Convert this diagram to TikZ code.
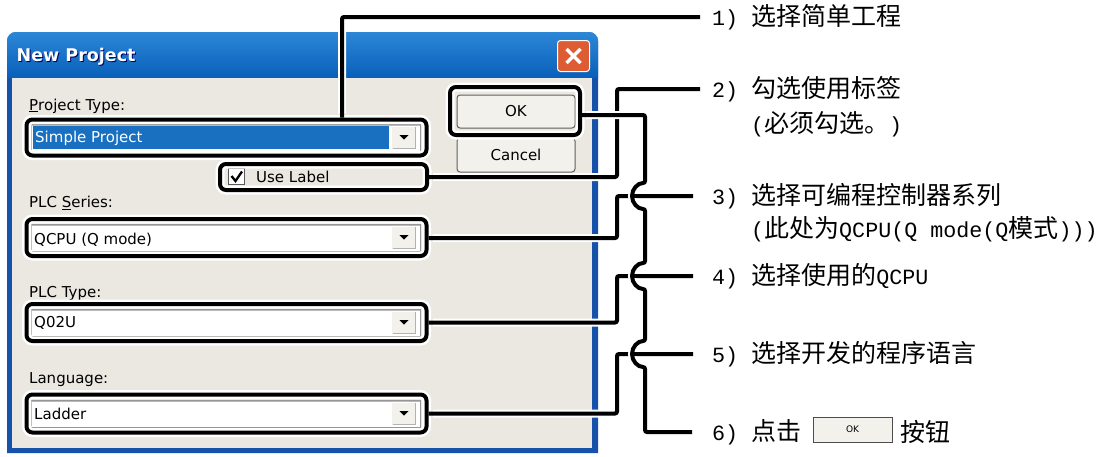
\documentclass[tikz,border=0pt]{standalone}
\usepackage{fontspec}
\setmainfont{DejaVu Sans}
\newfontfamily\cjkfont{Noto Sans CJK SC}
\newfontfamily\latmono{Liberation Mono}
\newfontfamily\uifont{DejaVu Sans}
\newcommand\hw[1]{{\latmono\fontsize{21.7}{22}\selectfont #1}}
\definecolor{titletop}{RGB}{45,135,215}
\definecolor{titlebot}{RGB}{8,95,185}
\definecolor{frameblue}{RGB}{22,82,170}
\definecolor{bodygray}{RGB}{234,232,225}
\definecolor{selblue}{RGB}{25,112,192}
\definecolor{btngray}{RGB}{242,241,236}
\definecolor{fieldgray}{RGB}{150,150,150}
\definecolor{closered}{RGB}{222,92,52}
\begin{document}
\begin{tikzpicture}[x=1pt,y=-1pt,
  hbox/.style={draw=black, line width=4, rounded corners=6, preaction={draw=white, line width=9}},
  conn/.style={line width=4, rounded corners=2, preaction={draw=white, line width=8, shorten <=4}},
  bare/.style={line width=4},
  ui/.style={font=\uifont\fontsize{15}{15}\selectfont, inner sep=0, anchor=west},
  lbl/.style={font=\cjkfont\fontsize{25}{26}\selectfont, inner sep=0, anchor=west},
  btn/.style={draw=gray!75!black, fill=btngray, rounded corners=3, line width=1, font=\uifont\fontsize{15}{15}\selectfont}]
\useasboundingbox (0,0) rectangle (1112,456);
\fill[white] (0,0) rectangle (1112,456);
% window
\fill[frameblue] (7,453) -- (7,41) arc[start angle=180, end angle=270, radius=9] -- (589,32) arc[start angle=270, end angle=360, radius=9] -- (598,453) -- cycle;
\shade[top color=titletop, bottom color=titlebot] (7,78) -- (7,41) arc[start angle=180, end angle=270, radius=9] -- (589,32) arc[start angle=270, end angle=360, radius=9] -- (598,78) -- cycle;
\fill[bodygray] (12,78) rectangle (592,448);
\node[ui, font=\uifont\bfseries\fontsize{17.5}{17.5}\selectfont, text=black!60!blue] at (17.5,58) {New Project};
\node[ui, font=\uifont\bfseries\fontsize{17.5}{17.5}\selectfont, text=white] (title) at (16.5,57) {New Project};
\node[fill=closered, draw=white, rounded corners=3, line width=1, minimum width=32, minimum height=31] (close) at (573.5,56) {};
\draw[white, line width=3.2] ([shift={(-7pt,-7pt)}]close.center) -- ([shift={(7pt,7pt)}]close.center);
\draw[white, line width=3.2] ([shift={(-7pt,7pt)}]close.center) -- ([shift={(7pt,-7pt)}]close.center);
% combo boxes
\foreach \c in {137.5,237.5,322.5,413.5} {
  \fill[white] (30,\c-14) rectangle (421,\c+14);
  \draw[line width=1, fieldgray] (30.5,\c-13.5) rectangle (420.5,\c+13.5);
  \draw[line width=1, gray!55] (31.5,\c+12.5) -- (31.5,\c-12.5) -- (419.5,\c-12.5);
  \fill[btngray] (392,\c-11) rectangle (416,\c+11);
  \draw[line width=1, gray!60] (392.5,\c+10.5) -- (415.5,\c+10.5) -- (415.5,\c-10.5);
  \fill (399.5,\c-2.5) -- (408.5,\c-2.5) -- (404,\c+2) -- cycle;
}
\fill[selblue] (33,126) rectangle (389,149);
% dialog texts
\node[ui] (ptype) at (29,106) {\underline{P}roject Type:};
\node[ui, text=white] (sptext) at (35,138) {Simple Project};
\node[ui] (series) at (29,203) {PLC \underline{S}eries:};
\node[ui] (qctext) at (34,240) {QCPU (Q mode)};
\node[ui] (ptyp) at (29,293) {PLC Type:};
\node[ui] (q02text) at (34,323) {Q02U};
\node[ui] (lang) at (29,380) {Language:};
\node[ui] (ladtext) at (34,414) {Ladder};
% checkbox
\fill[white] (228,168) rectangle (245,185);
\draw[line width=1, gray!70!black] (228.5,168.5) rectangle (244.5,184.5);
\draw[line width=2.3] (231.5,176) -- (235.5,181) -- (242,171.5);
\node[ui] (ultext) at (256,177) {Use Label};
% buttons
\node[btn, minimum width=118, minimum height=34] (cancel) at (516,155) {Cancel};
\node[btn, minimum width=118, minimum height=33] (okbtn) at (516,111.5) {OK};
% highlight outlines
\node[hbox, minimum width=400, minimum height=36] (sp) at (226.5,137.5) {};
\node[hbox, minimum width=207, minimum height=26] (ul) at (323.5,177) {};
\node[hbox, minimum width=400, minimum height=37] (qc) at (226.5,237.5) {};
\node[hbox, minimum width=400, minimum height=37] (q02) at (226.5,322.5) {};
\node[hbox, minimum width=400, minimum height=38] (lad) at (226.5,413.5) {};
\node[hbox, minimum width=130, minimum height=48] (ok) at (515,111) {};
% labels
\node[lbl] (l1) at (712,17) {\hw{1) }选择简单工程};
\node[lbl] (l2) at (712,89) {\hw{2) }勾选使用标签};
\node[lbl] (l2b) at (751,124) {\hw{(}必须勾选。\hw{)}};
\node[lbl] (l3) at (712,196) {\hw{3) }选择可编程控制器系列};
\node[lbl] (l3b) at (751,229) {\hw{(}此处为\hw{QCPU(Q mode(Q}模式\hw{)))}};
\node[lbl] (l4) at (712,276) {\hw{4) }选择使用的\hw{QCPU}};
\node[lbl] (l5) at (712,354) {\hw{5) }选择开发的程序语言};
\node[lbl] (l6) at (712,432) {\hw{6) }点击};
\node[draw=gray!60!black, fill=btngray, line width=1, minimum width=79, minimum height=25, inner sep=0, font=\uifont\fontsize{9}{9}\selectfont] (okicon) at (852.5,429.5) {OK};
\node[lbl] (l6b) at (900,432) {按钮};
% connectors
\draw[conn] ([xshift=115.5]sp.north) |- ([xshift=-12]l1.west);
\draw[conn] (ul.east) -| ([xshift=-95]l2.west) -- ([xshift=-12]l2.west);
\draw[conn] ([yshift=-0.5]qc.east) -| ([xshift=-95]l3.west) -- ([xshift=-19]l3.west);
\draw[conn] (q02.east) -| ([xshift=-95]l4.west) -- ([xshift=-19]l4.west);
\draw[conn] (lad.east) -| ([xshift=-95]l5.west) -- ([xshift=-19]l5.west);
\draw[conn] ([yshift=-4]ok.east) -- (645,115) -- (645,183) arc[start angle=270, end angle=90, radius=13] -- (645,263) arc[start angle=270, end angle=90, radius=13] -- (645,341) arc[start angle=270, end angle=90, radius=13] -- (645,432) -- ([xshift=-20]l6.west);
\draw[bare] (632,196) -- ([xshift=-19]l3.west);
\draw[bare] (632,276) -- ([xshift=-19]l4.west);
\draw[bare] (632,354) -- ([xshift=-19]l5.west);
\end{tikzpicture}
\end{document}
